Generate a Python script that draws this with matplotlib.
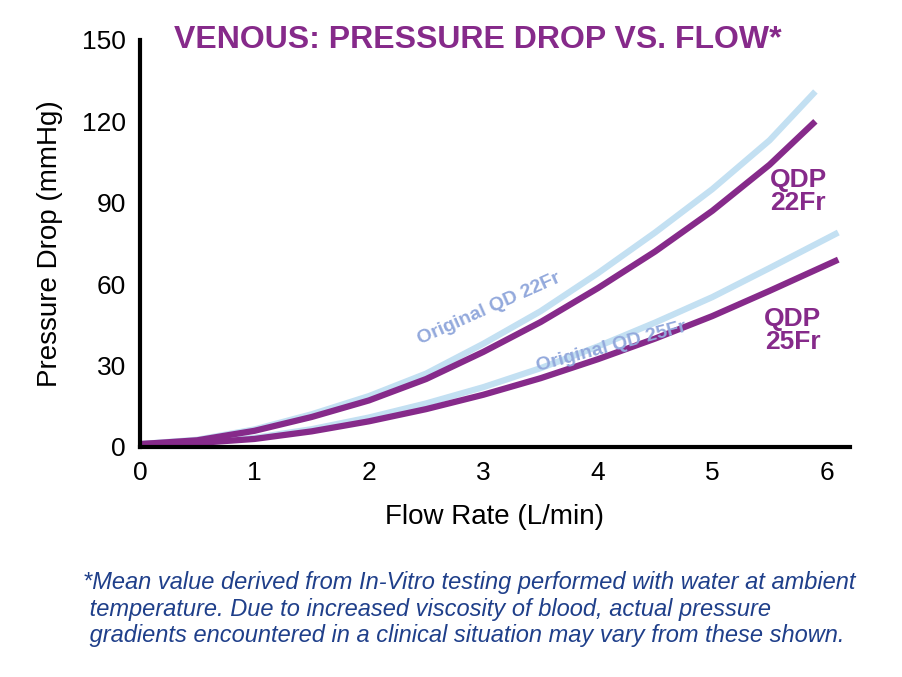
import numpy as np
import matplotlib.pyplot as plt

plt.rcParams['font.family'] = ['Liberation Sans', 'DejaVu Sans']

# data
x_22 = [0, 0.5, 1, 1.5, 2, 2.5, 3, 3.5, 4, 4.5, 5, 5.5, 5.9]
qdp_22 = [1, 2.4, 5.9, 11, 17.1, 25, 35, 46, 58.5, 72, 87, 104, 120]
orig_22 = [1, 2.6, 6.4, 12, 18.7, 27, 38, 50, 64, 79, 95, 113, 131]
x_25 = [0, 0.5, 1, 1.5, 2, 2.5, 3, 3.5, 4, 4.5, 5, 5.5, 6.1]
orig_25 = [1, 1.5, 3.3, 6.5, 10.8, 16, 22, 29, 37, 45.8, 55.2, 65.9, 79]
qdp_25 = [1, 1.4, 2.9, 5.7, 9.4, 13.9, 19.2, 25.3, 32.3, 39.9, 48.2, 57.5, 69]

purple = '#862A8A'
light = '#C3E0F2'
lav = '#93A9DC'

fig = plt.figure(figsize=(9.03, 6.77), dpi=100)
ax = fig.add_axes([0.155, 0.340, 0.786, 0.601])

ax.plot(x_22, orig_22, color=light, lw=4.5, solid_capstyle='butt')
ax.plot(x_25, orig_25, color=light, lw=4.5, solid_capstyle='butt')
ax.plot(x_22, qdp_22, color=purple, lw=4.5, solid_capstyle='butt')
ax.plot(x_25, qdp_25, color=purple, lw=4.5, solid_capstyle='butt')

ax.set_xlim(0, 6.2)
ax.set_ylim(0, 150)
ax.set_xticks(range(0, 7))
ax.set_yticks([0, 30, 60, 90, 120, 150])
for s in ['top', 'right']:
    ax.spines[s].set_visible(False)
for s in ['left', 'bottom']:
    ax.spines[s].set_linewidth(3)
ax.tick_params(length=0, labelsize=19, pad=10)
ax.set_xlabel('Flow Rate (L/min)', fontsize=20, labelpad=14)
ax.set_ylabel('Pressure Drop (mmHg)', fontsize=20, labelpad=14)

ax.text(2.95, 150, 'VENOUS: PRESSURE DROP VS. FLOW*', color=purple,
        fontsize=23, fontweight='bold', ha='center', va='center')
ax.text(2.4, 51, 'Original QD 22Fr', color=lav, fontsize=14,
        fontweight='bold', rotation=24, ha='left', va='center')
ax.text(3.45, 37, 'Original QD 25Fr', color=lav, fontsize=14,
        fontweight='bold', rotation=15, ha='left', va='center')
ax.text(5.75, 94, 'QDP\n22Fr', color=purple, fontsize=19,
        fontweight='bold', ha='center', va='center', linespacing=0.95)
ax.text(5.7, 43, 'QDP\n25Fr', color=purple, fontsize=19,
        fontweight='bold', ha='center', va='center', linespacing=0.95)

fig.text(0.092, 0.1,
         '*Mean value derived from In-Vitro testing performed with water at ambient\n'
         ' temperature. Due to increased viscosity of blood, actual pressure\n'
         ' gradients encountered in a clinical situation may vary from these shown.',
         color='#1F3F8A', fontsize=17, style='italic', ha='left', va='center',
         linespacing=1.2)

fig.savefig('out.png', dpi=100)
